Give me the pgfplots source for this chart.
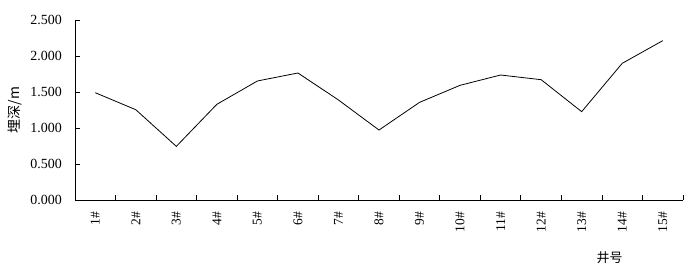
\documentclass[border=0pt]{standalone}
\usepackage{fontspec}
\setmainfont{Liberation Serif}
\newfontfamily\cjk{Noto Sans CJK SC}
\usepackage{pgfplots}
\pgfplotsset{compat=1.18}
\begin{document}
\begin{tikzpicture}
\path[use as bounding box] (-75bp,-70bp) rectangle (615bp,200bp);
\begin{axis}[
  at={(0,0)}, anchor=south west,
  scale only axis, width=608bp, height=180bp,
  axis lines=left, axis line style={-, line width=0.8pt},
  xmin=0.5, xmax=15.5, ymin=0, ymax=2.5,
  xtick={1,...,15},
  xticklabels={1\#,2\#,3\#,4\#,5\#,6\#,7\#,8\#,9\#,10\#,11\#,12\#,13\#,14\#,15\#},
  major x tick style={draw=none},
  minor xtick={0.5,1.5,...,15.5},
  minor tick length=5bp,
  ytick={0,0.5,1,1.5,2,2.5},
  major tick length=5bp,
  tick align=inside,
  tick style={black, line width=0.8pt},
  xticklabel style={yshift=-12bp, rotate=90, anchor=east, inner sep=0pt, font=\fontsize{13.5}{15}\selectfont},
  yticklabel style={anchor=east, inner sep=0pt, xshift=-13bp, font=\fontsize{14}{16}\selectfont,
    /pgf/number format/.cd, fixed, fixed zerofill, precision=3},
  /pgf/number format/assume math mode=true,
  clip=false,
]
\addplot[black, line width=0.8pt, mark=none] coordinates {
 (1,1.490) (2,1.254) (3,0.745) (4,1.329) (5,1.653) (6,1.764) (7,1.389)
 (8,0.972) (9,1.356) (10,1.593) (11,1.736) (12,1.671) (13,1.227) (14,1.898) (15,2.213)
};
\node[rotate=90, font=\cjk\fontsize{14}{16}\selectfont] at (axis description cs:-0.0987,0.5) {埋深/m};
\node[font=\cjk\fontsize{13}{15}\selectfont] at (axis description cs:0.8794,-0.322) {井号};
\end{axis}
\end{tikzpicture}
\end{document}
